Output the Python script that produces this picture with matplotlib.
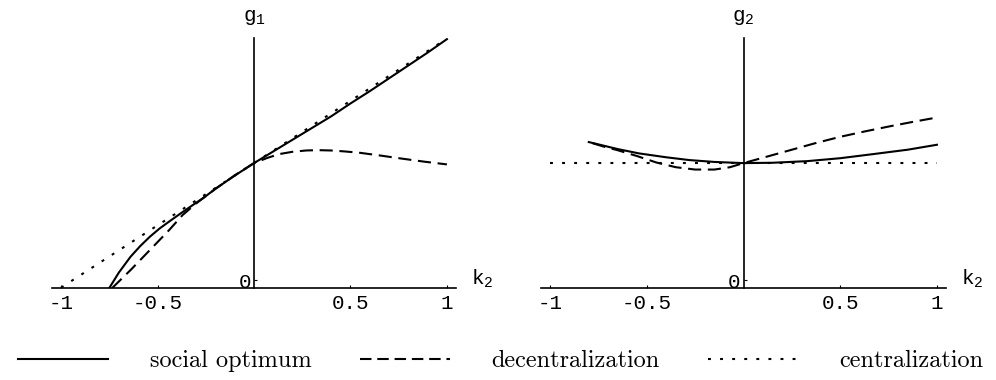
import matplotlib
matplotlib.use("Agg")
import matplotlib.pyplot as plt
from matplotlib.lines import Line2D

plt.rcParams["mathtext.fontset"] = "custom"
plt.rcParams["mathtext.tt"] = "Liberation Mono"
plt.rcParams["mathtext.rm"] = "Liberation Mono"
plt.rcParams["axes.unicode_minus"] = False

# ---- data (k2 on x, g on y; "0" tick at g=0) ----
# left panel: g1
k_opt1 = [-0.75, -0.70, -0.64, -0.59, -0.54, -0.49, -0.44, -0.38, -0.33, -0.26, -0.2, -0.1,
          0.0, 0.1, 0.2, 0.3, 0.4, 0.5, 0.6, 0.7, 0.8, 0.9, 1.0]
g_opt1 = [-0.068, 0.065, 0.199, 0.29, 0.37, 0.44, 0.50, 0.57, 0.627, 0.705, 0.78, 0.893,
          1.0, 1.10, 1.20, 1.30, 1.40, 1.51, 1.615, 1.725, 1.835, 1.945, 2.06]

k_dec1 = [-0.735, -0.64, -0.54, -0.44, -0.37, -0.3, -0.2, -0.1, 0.0, 0.07, 0.13, 0.2,
          0.27, 0.33, 0.4, 0.47, 0.55, 0.65, 0.76, 0.88, 1.0]
g_dec1 = [-0.068, 0.085, 0.256, 0.427, 0.556, 0.655, 0.78, 0.895, 1.0, 1.045, 1.077, 1.097,
          1.108, 1.111, 1.108, 1.10, 1.088, 1.066, 1.04, 1.013, 0.989]

k_cen1 = [-1.0, 0.0, 1.0]
g_cen1 = [-0.065, 1.0, 2.065]

# right panel: g2
k_opt2 = [-0.8, -0.72, -0.65, -0.54, -0.4, -0.28, -0.15, 0.0, 0.15, 0.33, 0.5, 0.67, 0.85, 1.0]
g_opt2 = [1.18, 1.148, 1.12, 1.083, 1.05, 1.026, 1.01, 1.0, 1.003, 1.017, 1.042, 1.077, 1.115, 1.157]

k_dec2 = [-0.78, -0.72, -0.65, -0.55, -0.45, -0.35, -0.25, -0.15, -0.07, 0.0, 0.12, 0.24,
          0.37, 0.5, 0.63, 0.76, 0.88, 1.0]
g_dec2 = [1.17, 1.14, 1.11, 1.06, 1.005, 0.965, 0.945, 0.945, 0.965, 1.0, 1.055, 1.11,
          1.17, 1.225, 1.272, 1.316, 1.354, 1.39]

k_cen2 = [-1.0, 1.0]
g_cen2 = [1.0, 1.0]

xticks = [-1, -0.5, 0.5, 1]
xticklabels = ["-1", "-0.5", "0.5", "1"]
ylabels = ["g", "g"]
ysubs = ["1", "2"]

XLIM = (-1.047, 1.047)
YLIM = (-0.068, 2.07)
LW = 1.5
DASH = (0, (6.3, 3.2))
DOT = (0, (1.4, 4.4))
TICKFONT = dict(family="Liberation Mono", size=15)


def setup(ax, name, sub):
    ax.set_xlim(*XLIM)
    ax.set_ylim(*YLIM)
    for s in ("top", "right"):
        ax.spines[s].set_visible(False)
    ax.spines["left"].set_position(("data", 0))
    for s in ("left", "bottom"):
        ax.spines[s].set_linewidth(1.2)
    ax.set_xticks(xticks)
    ax.set_xticklabels(xticklabels, fontdict=TICKFONT)
    ax.set_yticks([0])
    ax.set_yticklabels(["0"], fontdict=TICKFONT)
    ax.tick_params(direction="in", length=2.5, width=0.8, pad=4)
    ax.tick_params(axis="y", pad=2)
    ax.annotate(rf"$\mathtt{{{name}}}_{{\mathtt{{{sub}}}}}$", xy=(0, 1),
                xycoords=("data", "axes fraction"), xytext=(0, 15),
                textcoords="offset points", ha="center", va="center", fontsize=15)
    ax.annotate(r"$\mathtt{k}_{\mathtt{2}}$", xy=(1, 0),
                xycoords=("axes fraction", "data"), xytext=(11, 1),
                textcoords="offset points", ha="left", va="center", fontsize=15)


fig = plt.figure(figsize=(9.96, 3.8), dpi=100)
ax1 = fig.add_axes([0.0522, 0.2421, 0.4056, 0.6579])
ax2 = fig.add_axes([0.5432, 0.2421, 0.4066, 0.6579])

ax1.plot(k_opt1, g_opt1, color="black", lw=LW)
ax1.plot(k_dec1, g_dec1, color="black", lw=LW, ls=DASH)
ax1.plot(k_cen1, g_cen1, color="black", lw=LW, ls=DOT)
setup(ax1, ylabels[0], ysubs[0])

ax2.plot(k_opt2, g_opt2, color="black", lw=LW)
ax2.plot(k_dec2, g_dec2, color="black", lw=LW, ls=DASH)
ax2.plot(k_cen2, g_cen2, color="black", lw=LW, ls=DOT)
setup(ax2, ylabels[1], ysubs[1])

handles = [Line2D([], [], color="black", lw=LW),
           Line2D([], [], color="black", lw=LW, ls=(0, (5.5, 2.8))),
           Line2D([], [], color="black", lw=LW, ls=DOT)]
labels = ["social optimum", "decentralization", "centralization"]
fig.legend(handles, labels, loc="center", bbox_to_anchor=(0.503, 1 - 361 / 380),
           ncol=3, frameon=False, prop=dict(family="cmr10", size=17.5),
           handlelength=3.7, handletextpad=1.7, columnspacing=2.0,
           borderpad=0, borderaxespad=0)

fig.savefig("out.png", dpi=100)
